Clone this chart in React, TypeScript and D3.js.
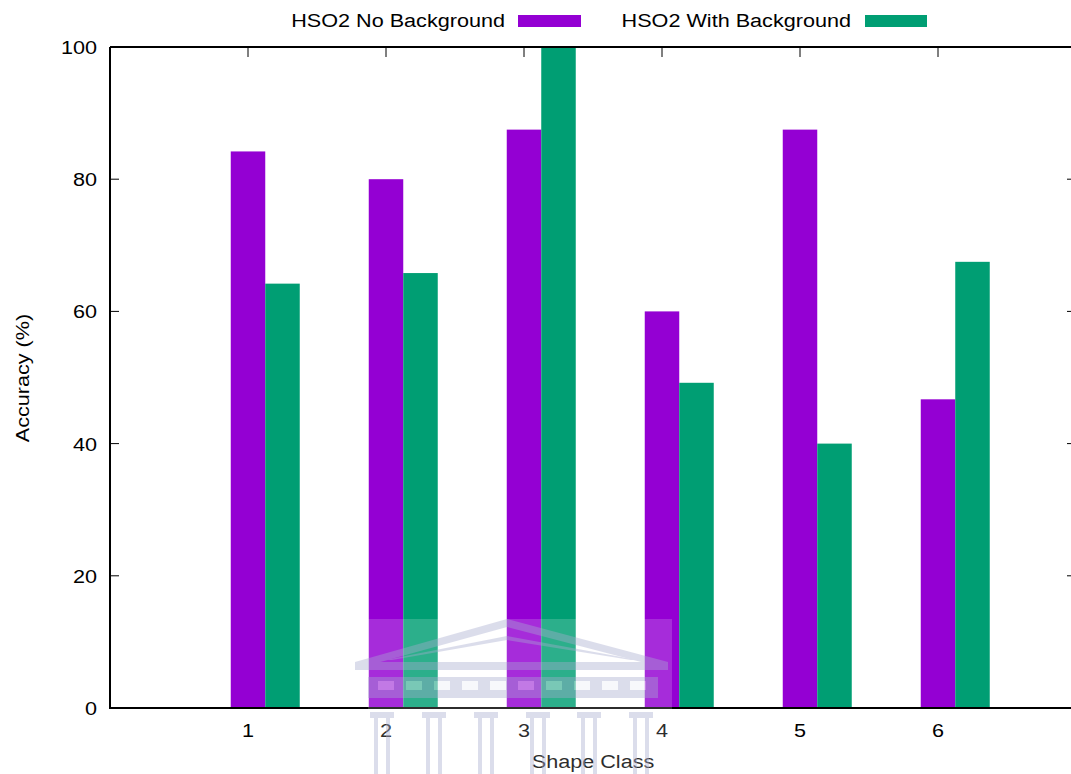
import React from "react";
import * as d3 from "d3";

const categories = [1, 2, 3, 4, 5, 6];
const seriesNames = ["HSO2 No Background", "HSO2 With Background"];
const noBackground = [84.2, 80.0, 87.5, 60.0, 87.5, 46.7];
const withBackground = [64.2, 65.8, 100.0, 49.2, 40.0, 67.5];
const yTicks = [0, 20, 40, 60, 80, 100];
const colors = ["#9400d3", "#009e73"];

const W = 1071;
const H = 774;
const FONT = "'Liberation Sans', Arial, Helvetica, sans-serif";
const FS = 18.8;
const SX = 1.15;

function T({ x, y, anchor = "start", rotate = 0, children }: any) {
  return (
    <text
      transform={`translate(${x},${y}) rotate(${rotate}) scale(${SX},1)`}
      textAnchor={anchor}
      fontFamily={FONT}
      fontSize={FS}
      fill="#000"
    >
      {children}
    </text>
  );
}

function Watermark() {
  const c = "#b9bcd9";
  const cols = [382, 434, 486, 538, 589, 641];
  return (
    <g opacity={0.5} pointerEvents="none">
      <rect x={368} y={619} width={304} height={155} fill="#ffffff" opacity={0.35} />
      <polygon points="355,662 507,619 668,662 668,669 507,627 355,669" fill={c} />
      <polygon points="385,660 507,636 638,660 631,660 507,640 392,660" fill={c} />
      <rect x={355} y={662} width={313} height={8} fill={c} />
      <rect x={368} y={677} width={290} height={17} fill={c} />
      {[0, 1, 2, 3, 4, 5, 6, 7, 8, 9].map((i) => (
        <rect key={i} x={378 + i * 28} y={681} width={16} height={9} fill="#ffffff" opacity={0.8} />
      ))}
      <rect x={368} y={694} width={290} height={4} fill={c} />
      {cols.map((cx) => (
        <g key={cx}>
          <rect x={cx - 12} y={712} width={24} height={6} fill={c} />
          <rect x={cx - 8} y={718} width={4} height={56} fill={c} />
          <rect x={cx + 4} y={718} width={4} height={56} fill={c} />
        </g>
      ))}
    </g>
  );
}

export default function App() {
  const x = d3.scaleLinear().domain([0, 7]).range([110, 1076]);
  const y = d3.scaleLinear().domain([0, 100]).range([708, 47]);
  const bw = 0.25;
  const series = [noBackground, withBackground];

  return (
    <svg
      width={W}
      height={H}
      style={{ position: "absolute", left: 0, top: 0, background: "#fff" }}
    >
      <rect width={W} height={H} fill="#fff" />
      {yTicks.map((t) => (
        <g key={t}>
          <line x1={110} x2={119} y1={y(t)} y2={y(t)} stroke="#000" strokeWidth={1} />
          <line x1={1067} x2={1076} y1={y(t)} y2={y(t)} stroke="#000" strokeWidth={1} />
          <T x={97} y={y(t) + 7} anchor="end">{t}</T>
        </g>
      ))}
      {categories.map((c) => (
        <g key={c}>
          <line x1={x(c)} x2={x(c)} y1={47} y2={57} stroke="#000" strokeWidth={1} />
          <line x1={x(c)} x2={x(c)} y1={708} y2={698} stroke="#000" strokeWidth={1} />
          <T x={x(c)} y={737} anchor="middle">{c}</T>
        </g>
      ))}
      {series.map((vals, si) =>
        vals.map((v, i) => {
          const c = categories[i];
          const x0 = x(c - bw / 2 + si * bw);
          const x1 = x(c + bw / 2 + si * bw);
          return (
            <rect
              key={`${si}-${i}`}
              x={x0}
              y={y(v)}
              width={x1 - x0}
              height={y(0) - y(v)}
              fill={colors[si]}
            />
          );
        })
      )}
      <path d="M110,47 H1076 M110,47 V708 H1076" fill="none" stroke="#000" strokeWidth={2} />
      <T x={593} y={768} anchor="middle">Shape Class</T>
      <T x={29} y={378} anchor="middle" rotate={-90}>Accuracy (%)</T>
      <T x={505} y={27} anchor="end">{seriesNames[0]}</T>
      <rect x={518} y={15} width={63} height={12} fill={colors[0]} />
      <T x={851} y={27} anchor="end">{seriesNames[1]}</T>
      <rect x={865} y={15} width={62} height={12} fill={colors[1]} />
      <Watermark />
    </svg>
  );
}
